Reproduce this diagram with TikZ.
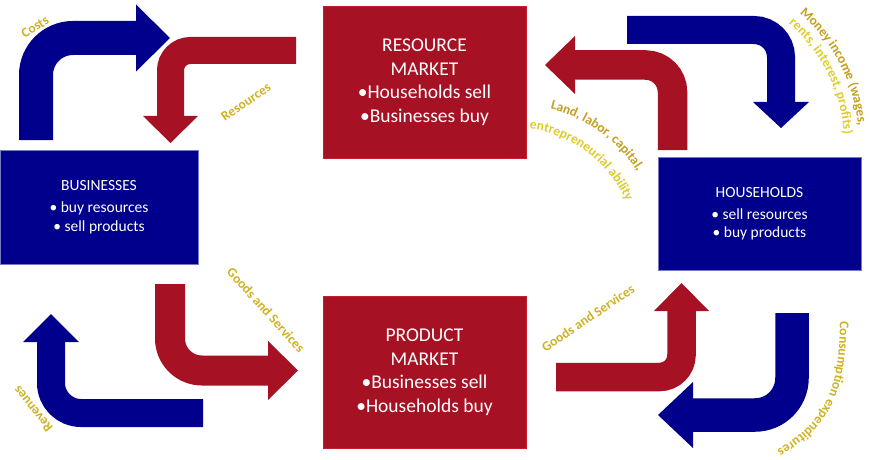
\documentclass[tikz,border=0pt]{standalone}
\usepackage{fontspec}
\setmainfont{Carlito}
\usetikzlibrary{decorations.text,calc}
\definecolor{myred}{RGB}{166,17,35}
\definecolor{myredline}{RGB}{196,30,40}
\definecolor{myblue}{RGB}{0,0,140}
\definecolor{mybluelline}{RGB}{120,120,200}
\definecolor{gold}{RGB}{208,178,32}
\definecolor{golddark}{RGB}{196,160,30}
\definecolor{goldlight}{RGB}{222,204,40}
\newcommand\lblfont{\bfseries\fontsize{13.5}{16}\selectfont}
\begin{document}
\begin{tikzpicture}[x=1pt,y=1pt,
  bigbox/.style={fill=myred, draw=myredline, line width=0.8pt, text=white, align=center, inner sep=0pt,
    minimum width=203pt, minimum height=152pt, font=\fontsize{19.5}{23.5}\selectfont},
  smallbox/.style={fill=myblue, draw=mybluelline, line width=0.6pt, text=white, align=center, inner sep=0pt,
    minimum width=#1, font=\fontsize{15.5}{18.5}\selectfont},
  lbl/.style={text=gold, font=\lblfont, inner sep=0pt},
  curvedlbl/.style 2 args={decorate, decoration={text along path, text={|\lblfont|#1},
    text align=center, text color=#2}}
]
\useasboundingbox (0,0) rectangle (871,459);

% boxes
\node[bigbox] (resmkt) at (424.5,377) {RESOURCE\\MARKET\\•Households sell\\•Businesses buy};
\node[bigbox] (prodmkt) at (424.5,87) {PRODUCT\\MARKET\\•Businesses sell\\•Households buy};
\node[smallbox=198pt, minimum height=114pt] (bus) at (99,252) {BUSINESSES\\[3.5pt]• buy resources\\• sell products};
\node[smallbox=203pt, minimum height=113pt] (hh) at (759.5,245.5) {HOUSEHOLDS\\[3.5pt]• sell resources\\• buy products};

% arrow A (blue, costs)
\draw[myblue, line width=34pt, rounded corners=37pt] (36,319) -- (36,421) -- (136,421);
\fill[myblue] (136,454.5) -- (170,421) -- (136,387.5) -- cycle;
% arrow B (red, resources)
\draw[myred, line width=27pt, rounded corners=20pt] (296,408.5) -- (170.5,408.5) -- (170.5,343);
\fill[myred] (143,343) -- (198,343) -- (170.5,316) -- cycle;
% arrow C (red, land labor)
\draw[myred, line width=29.5pt, rounded corners=27pt] (672.5,309) -- (672.5,394) -- (575,394);
\fill[myred] (575,423) -- (545,394) -- (575,365) -- cycle;
% arrow D (blue, money income)
\draw[myblue, line width=28pt, rounded corners=27pt] (627,429) -- (781,429) -- (781,357);
\fill[myblue] (753,357) -- (809,357) -- (781,331) -- cycle;
% arrow E (red, goods left)
\draw[myred, line width=30pt, rounded corners=32pt] (170,175) -- (170,88.5) -- (268,88.5);
\fill[myred] (268,118) -- (298,88.5) -- (268,59) -- cycle;
% arrow F (blue, revenues)
\draw[myblue, line width=28pt, rounded corners=30pt] (203,46) -- (51,46) -- (51,117);
\fill[myblue] (23,117) -- (79,117) -- (51,145) -- cycle;
% arrow G (red, goods right)
\draw[myred, line width=28.5pt, rounded corners=22pt] (556,82) -- (681.5,82) -- (681.5,148);
\fill[myred] (654,148) -- (709,148) -- (681.5,176) -- cycle;
% arrow H (blue, consumption)
\draw[myblue, line width=33.5pt, rounded corners=37pt] (792,146) -- (792,44) -- (693,44);
\fill[myblue] (693,77) -- (658,44) -- (693,11) -- cycle;

% straight labels
\node[lbl, rotate=33] (costs) at (35,432) {Costs};
\node[lbl, rotate=34] (resl) at (246,357) {Resources};
\node[lbl, rotate=-48] (gsl) at (266,149) {Goods and Services};
\node[lbl, rotate=129] (rev) at (33,50) {Revenues};
\node[lbl, rotate=34] (gsr) at (588,141) {Goods and Services};

% curved labels
\coordinate (CL) at (514,209);
\coordinate (CM) at (688,316);
\path[curvedlbl={Land, labor, capital,}{golddark}] ($(CL)+(80:146)$) arc[start angle=80, end angle=28, radius=146];
\path[curvedlbl={entrepreneurial ability}{goldlight}] ($(CL)+(88:122)$) arc[start angle=88, end angle=18, radius=122];
\path[curvedlbl={Money income (wages,}{golddark}] ($(CM)+(60:171)$) arc[start angle=60, end angle=-5, radius=171];
\path[curvedlbl={rents, interest, profits)}{goldlight}] ($(CM)+(60:156)$) arc[start angle=60, end angle=-7, radius=156];
\path[curvedlbl={Consumption expenditures}{gold}] (840,143) .. controls (840,72) and (828,36) .. (772,6);
\end{tikzpicture}
\end{document}
